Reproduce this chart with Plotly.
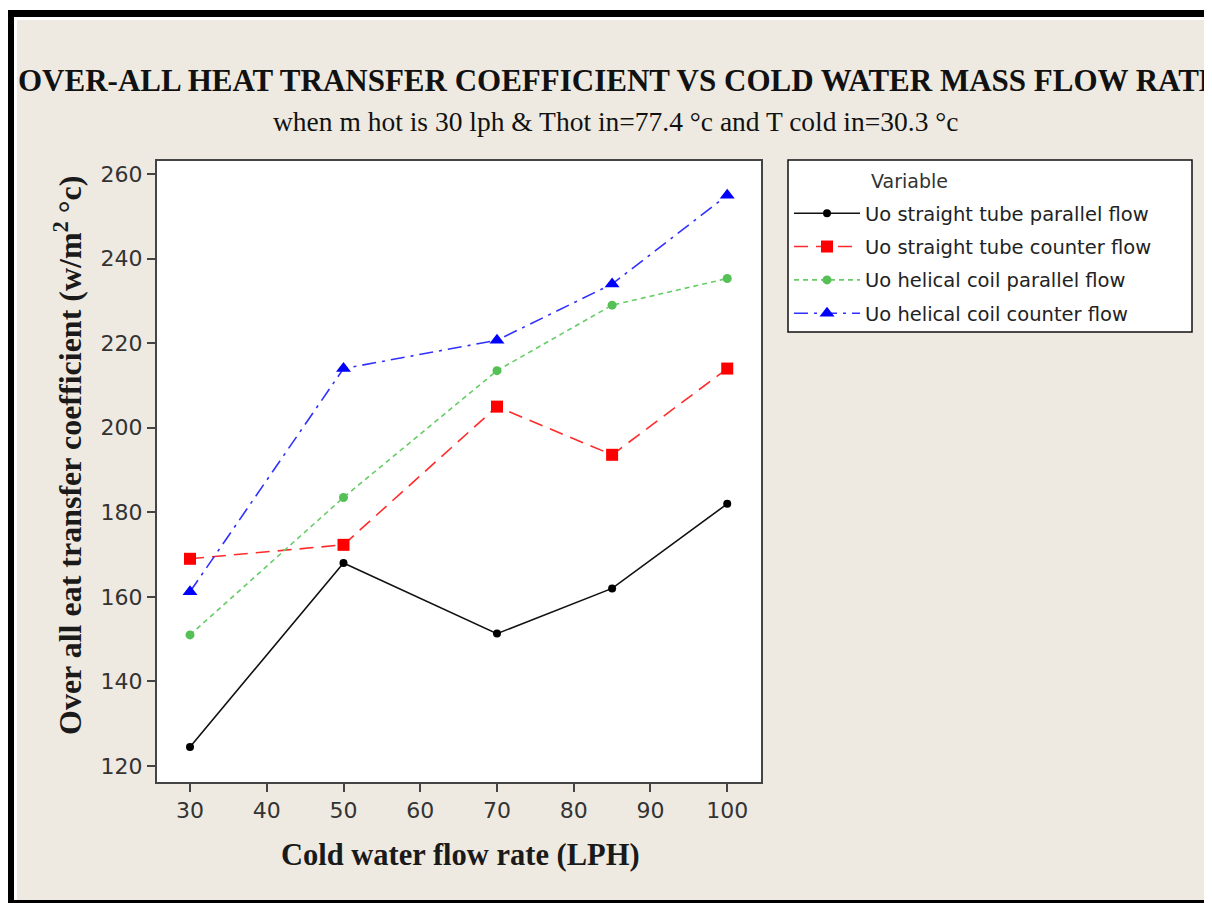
import plotly.graph_objects as go

# ---- data ----
flow_lph = [30, 50, 70, 85, 100]
uo_straight_parallel = [124.5, 168.0, 151.3, 162.0, 182.0]
uo_straight_counter = [169.0, 172.3, 205.0, 193.6, 214.0]
uo_helical_parallel = [151.0, 183.5, 213.5, 229.0, 235.3]
uo_helical_counter = [161.2, 214.0, 220.7, 234.0, 255.0]
series_names = ["Uo straight tube parallel flow", "Uo straight tube counter flow",
                "Uo helical coil parallel flow", "Uo helical coil counter flow"]
x_ticks = [30, 40, 50, 60, 70, 80, 90, 100]
y_ticks = [120, 140, 160, 180, 200, 220, 240, 260]

# the page body adds an 8px margin; design in screen pixels and shift
S = 8
W, H = 1212 - S, 903 - S
L, R, T, B = 157 - S, 761 - S, 161 - S, 782 - S
pw, ph = R - L, B - T


def X(px):
    return (px - S - L) / pw


def Y(py):
    return (B - (py - S)) / ph


fig = go.Figure()
styles = [
    dict(line=dict(color="#111111", width=1.6, dash="solid"),
         marker=dict(symbol="circle", size=8, color="#000000")),
    dict(line=dict(color="#ff2a2a", width=1.6, dash="14px,8px"),
         marker=dict(symbol="square", size=12, color="#ff0000")),
    dict(line=dict(color="#66cc66", width=1.6, dash="5px,4px"),
         marker=dict(symbol="circle", size=9, color="#55c055")),
    dict(line=dict(color="#3030ff", width=1.6, dash="14px,6px,3px,6px"),
         marker=dict(symbol="triangle-up", size=13, color="#0000ff")),
]
for i, (name, ys) in enumerate(zip(series_names, [uo_straight_parallel, uo_straight_counter,
                                                   uo_helical_parallel, uo_helical_counter])):
    fig.add_trace(go.Scatter(x=flow_lph, y=ys, mode="lines+markers", name=name,
                             legendgroup=f"g{i}", **styles[i]))

serif = "Liberation Serif"
sans = "DejaVu Sans"


def rect(x0, y0, x1, y1, fill, line=None):
    return dict(type="rect", xref="paper", yref="paper", x0=X(x0), x1=X(x1), y0=Y(y1), y1=Y(y0),
                fillcolor=fill, line=line or dict(width=0), layer="above")


shapes = [
    rect(8, 8, 1212, 10, "white"),
    rect(14, 17, 17, 900, "white"),
    rect(14, 17, 1212, 20, "white"),
    rect(7, 10, 1212, 17, "black"),
    rect(7, 10, 14, 903, "black"),
    rect(7, 900, 1212, 903, "black"),
    rect(788, 160, 1192, 332, "white", dict(color="#111111", width=1.5)),
]

annotations = [
    dict(text="<b>OVER-ALL HEAT TRANSFER COEFFICIENT VS COLD WATER MASS FLOW RATE</b>",
         xref="paper", yref="paper", x=X(619), y=Y(80), xanchor="center", yanchor="middle",
         showarrow=False, font=dict(family=serif, size=31, color="#111111")),
    dict(text="when m hot is 30 lph &amp; Thot in=77.4 °c and T cold in=30.3 °c",
         xref="paper", yref="paper", x=X(615), y=Y(122), xanchor="center", yanchor="middle",
         showarrow=False, font=dict(family=serif, size=27.5, color="#111111")),
    dict(text="<b>Cold water flow rate (LPH)</b>",
         xref="paper", yref="paper", x=X(460), y=Y(855), xanchor="center", yanchor="middle",
         showarrow=False, font=dict(family=serif, size=30.5, color="#1a1a1a")),
    dict(text="<b>Over all eat transfer coefficient (w/m<sup>2</sup> °c)</b>",
         xref="paper", yref="paper", x=X(68), y=Y(456), xanchor="center", yanchor="middle",
         textangle=-90, showarrow=False, font=dict(family=serif, size=32, color="#1a1a1a")),
    dict(text="Variable",
         xref="paper", yref="paper", x=X(869), y=Y(181), xanchor="left", yanchor="middle",
         showarrow=False, font=dict(family=sans, size=19, color="#333333")),
]

fig.update_layout(
    width=W, height=H,
    margin=dict(l=L, r=W - R, t=T, b=H - B, autoexpand=False),
    paper_bgcolor="#eeeae1",
    plot_bgcolor="white",
    shapes=shapes,
    annotations=annotations,
    showlegend=True,
    legend=dict(
        x=X(789), y=Y(194), xanchor="left", yanchor="top",
        bgcolor="rgba(0,0,0,0)", borderwidth=0,
        font=dict(family=sans, size=19.5, color="#222222"),
        itemwidth=66, tracegroupgap=5, traceorder="grouped",
    ),
    xaxis=dict(
        range=[25.7, 104.4], tickmode="array", tickvals=x_ticks,
        showgrid=False, zeroline=False,
        showline=True, mirror=True, linecolor="#444444", linewidth=2,
        ticks="outside", ticklen=8, tickwidth=2, tickcolor="#444444",
        tickfont=dict(family=sans, size=22, color="#333333"),
    ),
    yaxis=dict(
        range=[116.2, 263.1], tickmode="array", tickvals=y_ticks,
        showgrid=False, zeroline=False,
        showline=True, mirror=True, linecolor="#444444", linewidth=2,
        ticks="outside", ticklen=8, tickwidth=2, tickcolor="#444444",
        tickfont=dict(family=sans, size=22, color="#333333"),
    ),
)

fig.write_html("out.html")
